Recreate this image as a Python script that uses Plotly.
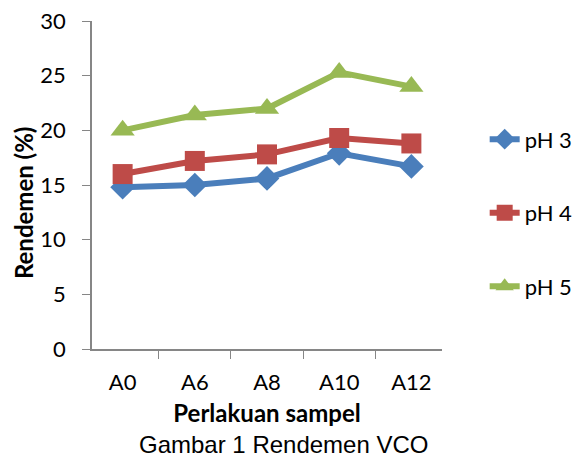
import plotly.graph_objects as go

categories = ["A0", "A6", "A8", "A10", "A12"]
ph3 = [14.8, 15.0, 15.6, 17.9, 16.7]
ph4 = [16.0, 17.2, 17.8, 19.3, 18.8]
ph5 = [20.0, 21.4, 22.0, 25.3, 24.0]
err3 = [0.2, 0.2, 0.8, 0.2, 0.5]
err4 = [0.2, 0.2, 0.2, 0.2, 0.2]
err5 = [0.2, 0.2, 0.2, 0.3, 0.2]
names = ["pH 3", "pH 4", "pH 5"]
colors = ["#4a7ebb", "#be4b48", "#98b954"]
symbols = ["diamond", "square", "triangle-up"]
sizes = [19, 20, 21]

fig = go.Figure()
for i, (vals, errs) in enumerate([(ph3, err3), (ph4, err4), (ph5, err5)]):
    fig.add_trace(go.Scatter(
        x=categories, y=vals, name=names[i], mode="lines+markers",
        line=dict(color=colors[i], width=6),
        marker=dict(symbol=symbols[i], size=sizes[i], color=colors[i]),
        error_y=dict(type="data", array=errs, visible=True, color="black",
                     thickness=1.5, width=3),
        legendgroup=names[i],
    ))

fam = "Lato, Open Sans, sans-serif"
tickfont = dict(family=fam, size=22, color="black")
fig.update_layout(
    width=577, height=457,
    margin=dict(l=92, r=135, t=21, b=108),
    paper_bgcolor="white", plot_bgcolor="white",
    showlegend=True,
    legend=dict(xref="container", yref="container", x=0.84, y=0.741,
                xanchor="left", yanchor="top",
                font=dict(family=fam, size=22, color="black"),
                tracegroupgap=42, bgcolor="rgba(0,0,0,0)"),
    xaxis=dict(showline=True, linecolor="#868686", linewidth=1.5,
               ticks="outside", tickson="boundaries", ticklen=8,
               ticklabelstandoff=13, automargin=False,
               tickcolor="#868686", tickfont=tickfont, showgrid=False,
               title=dict(text="<b>Perlakuan sampel</b>",
                          font=dict(family=fam, size=24, color="black"),
                          standoff=11)),
    yaxis=dict(range=[0, 30], dtick=5, showline=True, linecolor="#868686",
               linewidth=1.5, ticks="outside", ticklen=8, tickcolor="#868686",
               ticklabelstandoff=12, automargin=False,
               tickfont=tickfont, showgrid=False, zeroline=False),
)
fig.add_annotation(text="<b>Rendemen (%)</b>", xref="paper", yref="paper",
                   x=-0.197, y=0.445, xanchor="center", yanchor="middle",
                   textangle=-90, showarrow=False,
                   font=dict(family=fam, size=24, color="black"))
fig.add_annotation(text="Gambar 1 Rendemen VCO", xref="paper", yref="paper",
                   x=0.546, y=-0.29, xanchor="center", yanchor="middle",
                   showarrow=False,
                   font=dict(family="Liberation Sans, Arial, sans-serif", size=24, color="black"))
fig.write_html("out.html")
